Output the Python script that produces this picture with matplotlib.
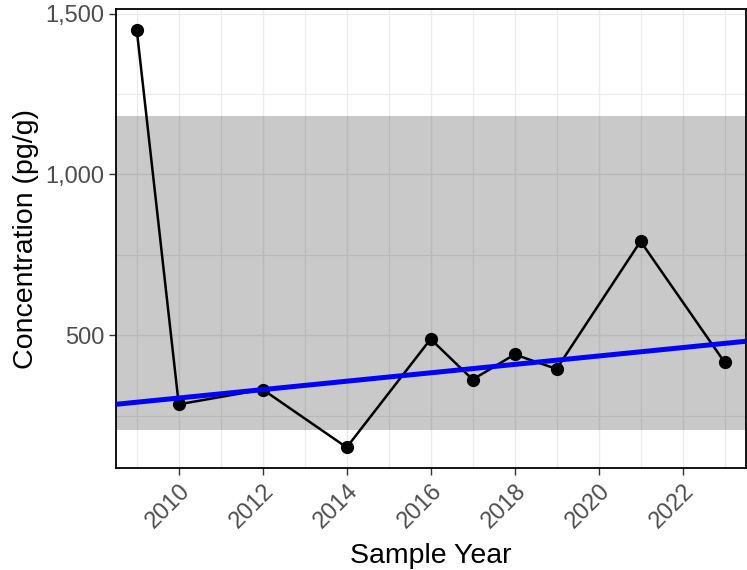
import numpy as np
import matplotlib.pyplot as plt
from matplotlib.ticker import MultipleLocator, FuncFormatter

plt.rcParams['font.family'] = ['Liberation Sans', 'DejaVu Sans']

# datos
years = [2009, 2010, 2012, 2014, 2016, 2017, 2018, 2019, 2021, 2023]
conc = [1449, 285, 331, 151, 488, 362, 440, 395, 792, 416]

# banda sombreada y linea de tendencia
band_low = 204
band_high = 1183
trend_years = [2008.5, 2023.5]
trend_values = [285, 481]

fig = plt.figure(figsize=(7.47, 5.70), dpi=100)
ax = fig.add_axes([0.155, 0.1784, 0.843, 0.8056])

ax.set_xlim(2008.5, 2023.5)
ax.set_ylim(86, 1514)

# rejilla tipo ggplot
ax.xaxis.set_major_locator(MultipleLocator(2))
ax.xaxis.set_minor_locator(MultipleLocator(1))
ax.yaxis.set_major_locator(MultipleLocator(500))
ax.yaxis.set_minor_locator(MultipleLocator(250))
ax.grid(which='major', color='#EBEBEB', lw=1.0, zorder=0)
ax.grid(which='minor', color='#EBEBEB', lw=0.8, zorder=0)
ax.set_axisbelow(True)

# banda
ax.axhspan(band_low, band_high, color='black', alpha=0.21, lw=0, zorder=1)

# serie
ax.plot(years, conc, color='black', lw=1.8, marker='o', ms=8.5, zorder=3)

# tendencia
ax.plot(trend_years, trend_values, color='#0000FF', lw=3.6, zorder=4,
        solid_capstyle='butt')

ax.yaxis.set_major_formatter(FuncFormatter(lambda v, p: f'{int(v):,}'))

for s in ax.spines.values():
    s.set_color('black')
    s.set_linewidth(1.3)

ax.tick_params(which='major', length=5, width=1, color='#333333',
               labelsize=17, labelcolor='#4D4D4D', pad=3)
ax.tick_params(which='minor', length=0)
plt.setp(ax.get_xticklabels(), rotation=45, ha='right', rotation_mode='anchor')

ax.set_xlabel('Sample Year', fontsize=20.5, color='black', labelpad=8)
ax.set_ylabel('Concentration (pg/g)', fontsize=20.5, color='black', labelpad=5)

fig.savefig('out.png', dpi=100)
